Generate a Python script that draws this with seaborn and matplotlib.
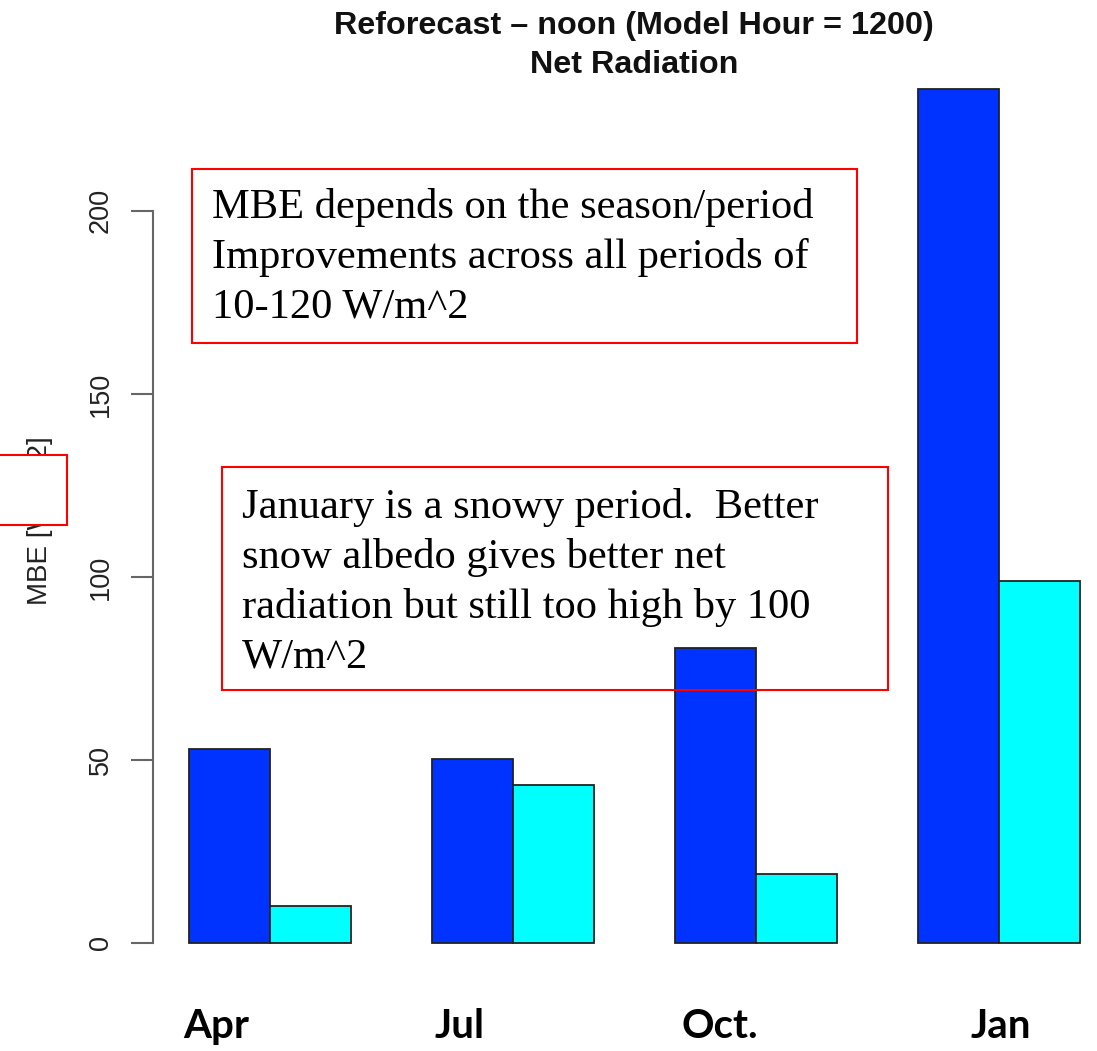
import matplotlib
matplotlib.use("Agg")
import matplotlib.pyplot as plt
import matplotlib.transforms as mtransforms
from matplotlib.patches import Rectangle
import seaborn as sns
import pandas as pd

# ---- data ----
months = ["Apr", "Jul", "Oct.", "Jan"]
series = ["Reforecast (old)", "Reforecast (new)"]
mbe_old = [53.0, 50.3, 80.6, 233.3]
mbe_new = [10.1, 43.2, 18.9, 98.9]
y_ticks = [0, 50, 100, 150, 200]
title_lines = ["Reforecast \u2013 noon (Model Hour = 1200)", "Net Radiation"]
y_label = "MBE [W/m^2]"
note1 = ["MBE depends on the season/period",
         "Improvements across all periods of",
         "10-120 W/m^2"]
note2 = ["January is a snowy period.  Better",
         "snow albedo gives better net",
         "radiation but still too high by 100",
         "W/m^2"]

df = pd.DataFrame({
    "month": months * 2,
    "series": [series[0]] * len(months) + [series[1]] * len(months),
    "mbe": mbe_old + mbe_new,
})

# ---- layout ----
W, H = 1097, 1051
sns.set_theme(style="ticks")
plt.rcParams["font.family"] = ["Liberation Sans", "DejaVu Sans"]

fig = plt.figure(figsize=(W / 100, H / 100), dpi=100)
ax = fig.add_axes([153 / W, 74 / H, 962.6 / W, 922 / H])

sns.barplot(data=df, x="month", y="mbe", hue="series", order=months,
            hue_order=series, palette=["#0033ff", "#00ffff"], saturation=1,
            width=2 / 3, gap=0, edgecolor="#222222", linewidth=1.3,
            errorbar=None, legend=False, ax=ax)

ax.set_xlim(-0.4815, 3.4815)
ax.set_ylim(-9.33, 242.6)
for s in ["top", "right", "bottom"]:
    ax.spines[s].set_visible(False)
ax.spines["left"].set_bounds(0, 200)
ax.spines["left"].set_color("#666666")
ax.spines["left"].set_linewidth(1.5)
ax.set_xticks([])
ax.set_xlabel("")
ax.set_yticks(y_ticks)
ax.set_yticklabels([str(v) for v in y_ticks])
ax.tick_params(axis="y", left=True, length=16, width=1.5, color="#666666",
               pad=12, labelsize=19.5, labelcolor="#222222", labelrotation=90)
for lab in ax.get_yticklabels():
    lab.set_va("center")
ax.set_ylabel(y_label, fontsize=20, color="#222222")
ax.yaxis.set_label_coords(-0.104, 0.495)

# month labels under the bars
label_offsets = [-0.22, -0.22, -0.15, 0.01]
blend = mtransforms.blended_transform_factory(ax.transData, fig.transFigure)
for i, (m, off) in enumerate(zip(months, label_offsets)):
    ax.text(i + off, (H - 1038) / H, m, transform=blend, ha="center",
            va="baseline", fontsize=29, fontweight="bold",
            family=["Lato", "DejaVu Sans"], color="black")

# title
for line, base in zip(title_lines, [34, 73]):
    fig.text(634 / W, 1 - base / H, line, ha="center", va="baseline",
             fontsize=23.3, fontweight="bold", color="#111111")

# white box hiding part of the y label
fig.add_artist(Rectangle((-2 / W, (H - 525) / H), 69 / W, 70 / H,
                         transform=fig.transFigure, facecolor="white",
                         edgecolor="#ff0000", linewidth=1.5, zorder=10))

# annotation boxes
fig.add_artist(Rectangle((192 / W, (H - 343) / H), (857 - 192) / W, (343 - 169) / H,
                         transform=fig.transFigure, fill=False,
                         edgecolor="#ff0000", linewidth=1.5, zorder=10))
fig.add_artist(Rectangle((222 / W, (H - 690) / H), (888 - 222) / W, (690 - 467) / H,
                         transform=fig.transFigure, fill=False,
                         edgecolor="#ff0000", linewidth=1.5, zorder=10))
for line, base in zip(note1, [218, 268, 317]):
    fig.text(212 / W, 1 - base / H, line, ha="left", va="baseline",
             fontsize=30.6, family=["Liberation Serif", "DejaVu Serif"], color="black")
for line, base in zip(note2, [518, 568, 618, 668]):
    fig.text(242 / W, 1 - base / H, line, ha="left", va="baseline",
             fontsize=30.6, family=["Liberation Serif", "DejaVu Serif"], color="black")

fig.savefig("out.png", dpi=100)
